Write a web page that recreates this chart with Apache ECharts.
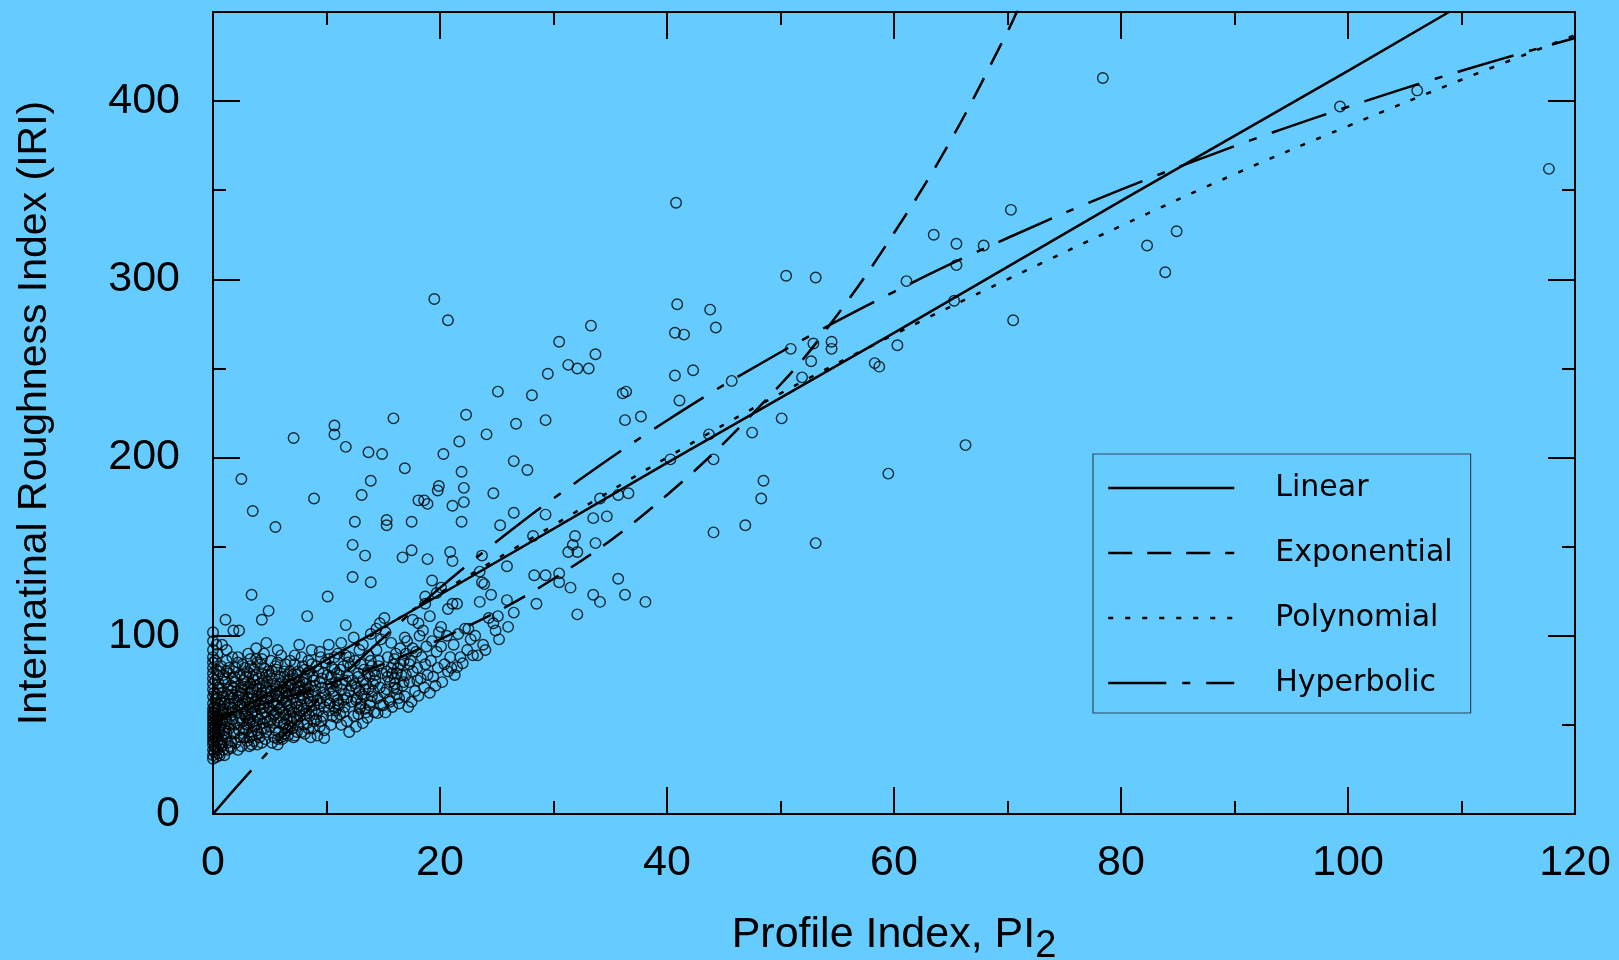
<!DOCTYPE html>
<html>
<head>
<meta charset="utf-8">
<script src="https://cdn.jsdelivr.net/npm/echarts@6/dist/echarts.min.js"></script>
<style>
html,body{margin:0;padding:0;background:#66ccff;}
#chart{width:1619px;height:960px;}
</style>
</head>
<body>
<div id="chart"></div>
<script>
// ---------- DATA ----------
const xRange = [0, 120];
const yRange = [0, 450];
const seriesNames = ['Linear', 'Exponential', 'Polynomial', 'Hyperbolic'];
const xTitle = '{a|Profile Index, PI}{s|2}';
const yTitle = 'Internatinal Roughness Index (IRI)';

// dense cluster of observations near the origin
const clusterPoints = [
  [0,31],[0,33],[0.1,35],[0,36],[0.2,38],[0,39],[0.1,40],[0,41],[0.2,42],[0,43],[0.1,44],[0,45],[0.2,46],[0,47],[0.1,48],[0,49],[0.2,50],[0,51],[0.1,52],[0,53],[0.2,54],[0,55],[0.1,56],[0,57],[0.2,58],[0,59],[0.1,60],[0,62],[0.2,64],[0,66],[0.1,68],[0,70],[0,73],[0,76],[0,79],[0,82],[0,85],[0,88],[0,92],[0,97],[0,102],
  [0.4,36],[0.6,39],[0.8,42],[0.5,45],[1.0,47],[0.7,50],[1.2,52],[0.4,55],[0.9,57],[1.4,59],[0.6,61],[1.1,63],[0.3,65],[0.8,68],[1.3,70],[0.5,73],[1.0,76],[1.4,79],[0.7,83],[1.2,86],[0.9,44],[1.3,40],[0.5,48],[1.1,54],[1.5,65],
  [1.6,37],[2.0,40],[2.4,43],[1.8,46],[2.7,48],[2.2,51],[1.7,53],[2.9,55],[2.1,57],[2.6,59],[1.9,62],[2.8,64],[2.3,66],[1.6,69],[2.5,71],[2.0,74],[2.9,77],[1.8,80],[2.6,84],[2.2,88],[1.8,103],[2.3,103],[2.7,45],[2.4,61],[1.9,50],[2.8,70],[3.0,80],
  [3.2,38],[3.6,41],[4.1,43],[3.4,46],[4.5,48],[3.8,50],[4.8,52],[3.1,54],[4.3,56],[3.7,58],[4.9,60],[3.3,62],[4.2,64],[3.9,66],[4.6,68],[3.5,70],[4.4,72],[3.0,74],[4.0,76],[4.7,78],[3.6,81],[4.2,84],[3.3,87],[4.5,90],[3.8,93],[4.7,96],[3.9,55],[4.1,61],[3.5,65],[4.8,74],[3.2,51],
  [5.2,40],[5.7,42],[6.3,45],[5.5,47],[6.8,49],[5.9,51],[6.5,53],[5.3,55],[6.1,57],[6.9,59],[5.6,61],[6.4,63],[5.1,65],[6.7,67],[5.8,69],[6.2,71],[5.4,73],[6.6,75],[5.9,77],[6.3,80],[5.5,83],[6.8,86],[6.0,89],[5.7,92],[6.5,62],[5.3,58],[6.1,68],[5.8,54],[6.9,72],[5.0,78],[5.7,39],
  [7.2,44],[7.8,46],[8.4,48],[7.5,50],[8.9,52],[7.1,54],[8.1,56],[8.7,58],[7.4,60],[8.3,62],[7.7,64],[8.8,66],[7.3,68],[8.0,70],[8.6,72],[7.6,74],[8.2,76],[7.0,78],[8.5,80],[7.9,83],[8.4,86],[7.2,89],[8.7,92],[7.6,95],[8.0,65],[7.5,71],[8.9,61],[7.1,43],[8.6,43],
  [9.2,44],[9.8,47],[10.4,50],[9.5,52],[10.9,54],[9.1,56],[10.2,58],[10.7,60],[9.4,62],[10.0,64],[10.6,66],[9.7,68],[10.3,70],[9.0,72],[10.8,74],[9.6,76],[10.1,78],[9.3,80],[10.5,82],[9.9,85],[10.7,88],[9.4,91],[10.2,95],[9.8,42.6],[10.4,73],[9.5,65],[10.9,79],[11.0,62],
  [11.3,50],[11.8,52],[12.4,55],[11.5,57],[12.9,59],[11.1,61],[12.2,63],[12.7,65],[11.6,67],[12.0,69],[12.6,71],[11.4,73],[12.3,75],[11.9,77],[12.8,79],[11.2,81],[12.1,83],[12.5,86],[11.7,89],[12.9,92],[11.3,96],[12.4,99],[12.0,46],[12.6,49],[11.5,64],[12.2,72],[11.9,85],
  [13.2,51],[13.6,54],[14.2,57],[13.4,59],[14.8,61],[13.9,63],[14.5,65],[13.1,67],[14.1,69],[14.7,71],[13.5,73],[14.3,75],[13.8,77],[14.9,79],[13.3,81],[14.0,83],[14.6,86],[13.7,89],[14.4,92],[13.2,95],[14.8,98],[13.9,101],[14.5,56.6],[13.4,70],[14.2,80],[13.0,62],[14.4,104],
  [15.2,57],[15.8,60],[16.4,62],[15.5,64],[16.9,66],[15.1,68],[16.2,70],[16.7,72],[15.6,74],[16.0,76],[16.6,78],[15.3,80],[16.3,82],[15.9,84],[16.8,86],[15.4,88],[16.1,90],[16.5,93],[15.7,96],[16.9,99],[15.2,102],[16.4,65],[15.8,79],[16.0,73],
  [17.2,60],[17.5,63],[18.1,66.3],[17.8,69],[18.6,71],[17.3,74],[18.3,76],[18.9,78],[17.6,80],[18.0,82],[18.7,84],[17.4,86],[18.4,88],[17.9,91],[18.8,94],[17.1,97],[18.2,100],[18.5,103],[18.0,75],
  [19.1,68],[19.6,72],[20.2,74],[19.4,77],[20.7,80],[19.8,82],[20.4,84],[19.2,86],[20.9,88],[19.7,91],[20.1,94],[19.3,97],[20.6,100],[19.9,102],[21.0,82],
  [21.3,78],[21.5,82.4],[22.0,84.6],[21.8,88],[22.4,92],[21.2,95],[22.7,98],[21.6,101],[22.2,104],[22.9,89],[22.5,104],
  [23.3,89],[23.1,100],[24.9,103],[23.8,95],[25.2,98],[24.0,92],[26.0,105]
];

// further observations inside the dark core of the cluster
const coreDensePoints = [
  [0.3,32],[0.5,34],[0.2,37],[0.4,41],[0.3,43],[0.6,46],[0.2,49],[0.4,51],[0.3,53],[0.5,56],[0.2,59],[0.4,62],[0.3,67],[0.5,71],[0.2,75],[0.4,78],[0.3,81],[0.2,86],[0.4,90],[0.3,95],
  [1.0,33],[1.3,36],[0.8,38],[1.6,41],[1.1,43],[1.9,45],[1.4,48],[0.9,51],[1.7,53],[1.2,56],[2.0,58],[1.5,60],[1.0,62],[1.8,65],[1.3,67],[2.1,69],[1.6,72],[1.1,74],[1.9,77],[1.4,82],[2.2,85],[1.7,88],[1.2,92],[0.8,95],
  [2.5,38],[3.0,41],[2.7,43],[3.4,44],[2.9,47],[3.6,49],[2.6,52],[3.3,53],[2.8,56],[3.5,57],[2.5,60],[3.2,60],[2.9,63],[3.7,63],[2.6,67],[3.4,68],[3.1,71],[3.8,72],[2.7,75],[3.5,77],[3.2,79],[2.8,82],[3.9,85],[3.1,90],
  [4.3,40],[4.0,45],[4.7,46],[5.0,49],[4.4,51],[5.1,53],[4.6,54],[5.4,56],[4.2,59],[5.0,59],[4.5,62],[5.3,63],[4.8,65],[5.6,66],[4.3,68],[5.1,69],[4.7,71],[5.5,72],[4.4,75],[5.2,76],[4.9,80],[5.6,81],[4.3,87],[5.1,86],
  [6.0,43],[6.6,47],[7.0,48],[6.2,50],[6.9,52],[7.4,53],[6.4,56],[7.1,57],[6.0,60],[7.6,58],[6.7,61],[7.3,62],[6.2,65],[7.0,65],[7.8,67],[6.5,69],[7.2,70],[6.8,73],[7.6,72],[6.3,77],[7.1,76],[6.8,80],[7.5,80],[6.4,84],[7.2,84],[7.8,88],
  [8.1,45],[8.8,48],[9.4,49],[8.3,51],[9.1,53],[9.7,55],[8.5,55],[9.3,58],[8.0,59],[9.8,60],[8.6,63],[9.2,64],[9.9,67],[8.4,68],[9.0,69],[9.6,71],[8.2,73],[9.4,74],[8.8,77],[9.7,79],[8.1,81],[9.1,83],[8.7,84],[9.5,88],
  [10.5,55],[11.2,56],[10.8,58],[11.6,60],[10.3,62],[11.0,64],[11.8,65],[10.6,69],[11.3,70],[10.9,72],[11.7,75],[10.4,77],[11.1,78],[10.7,81],[11.5,83],[10.2,87],[11.0,90],[12.0,88],
  [12.8,56],[13.5,57],[13.0,60],[13.8,61],[12.6,64],[13.3,66],[14.0,66],[12.9,69],[13.7,70],[12.5,73],[13.2,75],[14.1,73],[12.8,77],[13.6,79],[14.3,78],[13.0,84],[13.9,86],[14.6,83],
  [15.0,61],[15.6,63],[16.2,67],[15.3,70],[16.0,71],[16.8,74],[15.4,77],[16.2,79],[17.0,78],[15.7,82],[16.5,84],[17.3,84],[16.0,87],[17.0,90],[17.6,93],
  [0.6,33],[0.9,36],[1.5,38],[2.2,36],[0.7,40],[1.2,45],[2.3,47],[0.6,53],[1.5,50],[2.4,54],[0.9,59],[1.6,57],[2.6,62],[0.7,64],[1.4,62],[2.2,64],[0.9,66],[1.7,67],[2.4,68],[0.6,70],[1.8,71],[2.7,73],[0.9,78],[1.7,76],[2.4,78],[0.6,80],[1.2,80],[2.0,82],
  [3.4,39],[3.9,39],[4.6,42],[3.2,43],[3.9,47],[4.3,48],[3.0,50],[3.6,52],[4.1,53],[3.4,56],[4.6,57],[3.0,58],[3.6,60],[4.4,60],[3.1,65],[3.8,64],[4.3,66],[3.2,68],[3.9,70],[4.8,69],[3.3,73],[4.1,73],[3.6,75],[4.3,79],[3.8,78],[3.3,83],[4.5,82],[3.8,87],
  [5.4,43],[6.1,42],[6.6,44],[5.8,46],[6.4,48],[5.4,51],[6.3,51],[5.6,57],[6.8,55],[5.9,59],[6.7,58],[5.4,62],[6.1,64],[5.8,66],[6.5,66],[5.6,70],[6.4,68],[5.9,73],[6.6,71],[5.2,80],[6.1,74],[5.7,85],[6.6,78],[7.4,46],[8.0,50],[7.7,55],[8.2,58],[7.8,61],[8.4,65],[7.7,69],[8.4,70],[7.9,74],[8.9,75],[7.4,78],[8.3,79]
];

// scattered observations away from the cluster
const spreadPoints = [
  [19.5,289],[20.7,277],[40.9,286],[43.8,283],[33.3,274],[30.5,265],[33.7,258],[31.3,252],[32.1,250],[33.1,250],[29.5,247],[40.7,270],[41.5,269],[40.7,246],[42.3,249],[36.4,237],[36.1,236],[25.1,237],[28.1,235],[41.1,232],[37.7,223],[36.3,221],[29.3,221],[22.3,224],[26.7,219],[15.9,222],[10.7,218],[10.7,213],[7.1,211],[11.7,206],[13.7,203],[14.9,202],[24.1,213],[21.7,209],[20.3,202],[16.9,194],[21.9,192],[13.9,187],[19.9,184],[19.8,181.5],[22.1,183],[13.1,179],[8.9,177],[18.1,176],[18.6,176],[18.9,174],[21.1,173],[22.1,175],[26.5,198],[27.7,193],[24.7,180],[40.3,199],[2.5,188],[3.5,170],[5.5,161],[12.5,164],[15.3,165],[15.3,162],[17.5,164],[21.9,164],[26.5,169],[29.3,168],[34.1,177],[35.7,179],[36.6,180],[33.5,166],[34.7,167],[25.3,162],[12.3,151],[13.4,145],[16.7,144],[17.5,148],[18.9,143],[20.9,147],[21.1,142],[23.7,145],[25.9,139],[28.2,156],[31.9,156],[31.7,151],[31.3,147],[32.1,147],[33.7,152],[35.7,132],[12.3,133],[13.9,130],[3.4,123],[10.1,122],[4.9,114],[4.3,109],[8.3,111],[11.7,106],[1.1,109],[19.3,131],[18.7,122],[20.1,127],[19.7,124],[23.5,136],[23.7,130],[23.9,129],[24.5,123],[23.5,119],[25.9,120],[26.5,113],[28.3,134],[29.3,134],[30.5,135],[30.5,130],[31.5,127],[28.5,118],[32.1,112],[33.5,123],[34.1,119],[36.3,123],[38.1,119],[25.1,111],[24.3,110],[24.7,107],[20.7,115],[21.1,118],[21.5,118],[19.1,111],[18.1,107],[17.6,109],[15.1,110],[14.7,107],[20.1,105],[18.7,118],[40.8,343],
  [44.3,273],[50.5,302],[53.1,301],[63.5,325],[65.5,320],[67.9,319],[70.3,339],[65.5,308],[61.1,299],[84.9,327],[82.3,319],[83.9,304],[45.7,243],[50.9,261],[52.9,264],[54.5,265],[54.5,261],[52.7,254],[51.9,245],[58.3,253],[58.7,251],[60.3,263],[65.3,288],[70.5,277],[43.7,213],[47.5,214],[50.1,222],[44.1,199],[48.5,187],[48.3,177],[46.9,162],[44.1,158],[53.1,152],[59.5,191],[66.3,207],
  [78.4,413],[99.3,397],[106.1,406],[117.7,362]
];

// fitted curves
const linearCurve = [[0,50],[20,123],[40,197],[60,270],[80,344],[100,417],[108.9,450]];
const exponentialCurve = [[0,54],[10,72.6],[20,98],[30,132],[40,179],[50,241],[55,280],[60,326],[65,378],[70,439],[71,452.6]];
const polynomialCurve = [[0,42],[10,84],[20,124],[30,162],[40,200],[50,236],[60,269],[70,300],[80,330],[90,359],[100,386],[110,412],[120,437]];
const hyperbolicCurve = [[0,0],[2,14.7],[5,35.7],[10,68.6],[15,98.9],[20,126.9],[25,152.9],[30,177.1],[40,220.8],[50,259.1],[60,293],[70,323.2],[80,350.3],[90,374.7],[100,396.8],[110,417],[120,435.4]];

// ---------- CHART ----------
const BLACK = '#000';
const tickFont = 'Liberation Sans, Arial, sans-serif';
const axisLineStyle = { color: BLACK, width: 2 };
const CLEAR = 'rgba(0,0,0,0)';

function xAxisDef(pos, showLabels) {
  return {
    type: 'value', position: pos, min: xRange[0], max: xRange[1], interval: 20,
    axisLine: { show: true, onZero: false, lineStyle: axisLineStyle },
    axisTick: { show: true, inside: true, length: 27, lineStyle: { color: BLACK, width: 2 } },
    minorTick: { show: true, splitNumber: 2, length: 13, lineStyle: { color: BLACK, width: 2 } },
    splitLine: { show: false }, minorSplitLine: { show: false },
    axisLabel: { show: showLabels, color: BLACK, fontFamily: tickFont, fontSize: 43, margin: 28 },
    axisPointer: { show: false }
  };
}
function yAxisDef(pos, interval, len, showLabels, showLine) {
  return {
    type: 'value', position: pos, min: yRange[0], max: yRange[1], interval: interval,
    axisLine: { show: showLine, onZero: false, lineStyle: axisLineStyle },
    axisTick: { show: true, inside: true, length: len, lineStyle: { color: BLACK, width: 2 } },
    splitLine: { show: false },
    axisLabel: { show: showLabels, showMaxLabel: false, color: BLACK, fontFamily: tickFont, fontSize: 43, margin: 33 },
    axisPointer: { show: false }
  };
}

const xMain = xAxisDef('bottom', true);
xMain.name = xTitle;
xMain.nameLocation = 'middle';
xMain.nameGap = 100;
xMain.nameMoveOverlap = false;
xMain.nameTextStyle = {
  color: BLACK, fontFamily: tickFont, fontSize: 43,
  rich: {
    a: { color: BLACK, fontFamily: tickFont, fontSize: 43, lineHeight: 43 },
    s: { color: BLACK, fontFamily: tickFont, fontSize: 38, lineHeight: 38, padding: [22, 0, 0, 0] }
  }
};

const yMain = yAxisDef('left', 100, 27, true, true);
yMain.name = yTitle;
yMain.nameLocation = 'middle';
yMain.nameGap = 158;
yMain.nameMoveOverlap = false;
yMain.nameTextStyle = { color: BLACK, fontFamily: tickFont, fontSize: 41 };

function curveSeries(name, data, dash) {
  return {
    type: 'line', name: name, data: data, symbol: 'none', smooth: dash === 'solid' ? false : 0.4,
    z: 3, silent: true, color: CLEAR,
    itemStyle: { color: CLEAR, borderColor: CLEAR },
    lineStyle: { color: BLACK, width: 2.5, type: dash }
  };
}

const chart = echarts.init(document.getElementById('chart'), null, { renderer: 'canvas' });
chart.setOption({
  animation: false,
  backgroundColor: '#66ccff',
  grid: { left: 213, right: 44, top: 12, bottom: 146, containLabel: false, outerBoundsMode: 'none', show: false },
  xAxis: [xMain, xAxisDef('top', false)],
  yAxis: [
    yMain,
    yAxisDef('left', 50, 13, false, false),
    yAxisDef('right', 100, 27, false, true),
    yAxisDef('right', 50, 13, false, false)
  ],
  legend: {
    show: true,
    data: seriesNames,
    orient: 'vertical',
    left: 1093, top: 454,
    padding: [19, 18, 15, 14],
    itemWidth: 126, itemHeight: 30, itemGap: 35,
    backgroundColor: CLEAR,
    borderColor: '#2e4a5c', borderWidth: 1.2,
    selectedMode: false,
    itemStyle: { color: CLEAR, borderColor: CLEAR, borderWidth: 0, opacity: 0 },
    lineStyle: { color: BLACK, width: 2.5 },
    textStyle: { color: BLACK, fontFamily: 'DejaVu Sans, Verdana, sans-serif', fontSize: 30, lineHeight: 30, padding: [0, 0, 0, 36] }
  },
  series: [
    {
      type: 'scatter', name: 'Observed', data: clusterPoints.concat(coreDensePoints, spreadPoints),
      symbol: 'circle', symbolSize: 10.5, silent: true, z: 2,
      itemStyle: { color: CLEAR, borderColor: '#000', borderWidth: 1.4 }
    },
    curveSeries('Linear', linearCurve, 'solid'),
    curveSeries('Exponential', exponentialCurve, [24, 15]),
    curveSeries('Polynomial', polynomialCurve, [5, 12]),
    curveSeries('Hyperbolic', hyperbolicCurve, [58, 16, 8, 16])
  ]
});
</script>
</body>
</html>
